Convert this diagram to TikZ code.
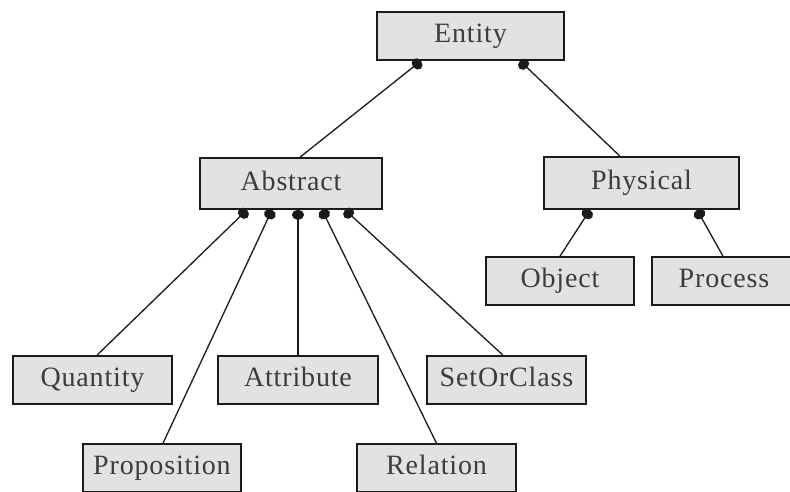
\documentclass[tikz,border=0pt]{standalone}
\usepackage{fontspec}
\setmainfont{Liberation Serif}[LetterSpace=3]
\usetikzlibrary{arrows.meta}
\definecolor{boxfill}{HTML}{E2E2E2}
\definecolor{ink}{HTML}{1A1A1A}
\tikzset{
  cls/.style={draw=ink, line width=1.6pt, fill=boxfill, inner sep=0pt,
    font=\fontsize{28}{30}\selectfont, text=ink!85, anchor=center,
    text height=19pt, text depth=6pt},
  edge/.style={draw=ink, line width=1.3pt, -{Circle[length=10pt,width=12pt]}},
}
\begin{document}
\begin{tikzpicture}[x=1pt,y=-1pt]
\useasboundingbox (0,0) rectangle (790,491);
\clip (0,0) rectangle (790,491);
\fill[white] (0,0) rectangle (790,491);
\node[cls, minimum width=187pt, minimum height=48pt] (entity) at (470.5,36) {Entity};
\node[cls, minimum width=182pt, minimum height=51pt] (abstract) at (291,183.5) {Abstract};
\node[cls, minimum width=195pt, minimum height=52pt] (physical) at (641.5,183) {Physical};
\node[cls, minimum width=148pt, minimum height=48pt] (object) at (560,281) {Object};
\node[cls, minimum width=144pt, minimum height=48pt] (process) at (724,281) {Process};
\node[cls, minimum width=159pt, minimum height=48pt] (quantity) at (92.5,380) {Quantity};
\node[cls, minimum width=160pt, minimum height=48pt] (attribute) at (298,380) {Attribute};
\node[cls, minimum width=159pt, minimum height=48pt] (setorclass) at (506.5,380) {SetOrClass};
\node[cls, minimum width=158pt, minimum height=48pt] (proposition) at (162,468) {Proposition};
\node[cls, minimum width=159pt, minimum height=48pt] (relation) at (436.5,468) {Relation};

\draw[edge] ([xshift=9pt]abstract.north) -- ([xshift=-49.5pt]entity.south);
\draw[edge] ([xshift=-21.5pt]physical.north) -- ([xshift=49.5pt]entity.south);
\draw[edge] ([xshift=4.5pt]quantity.north) -- ([xshift=-44pt]abstract.south);
\draw[edge] ([xshift=1pt]proposition.north) -- ([xshift=-19pt]abstract.south);
\draw[edge] (attribute.north) -- ([xshift=7pt]abstract.south);
\draw[edge] (relation.north) -- ([xshift=31pt]abstract.south);
\draw[edge] ([xshift=-3.5pt]setorclass.north) -- ([xshift=54pt]abstract.south);
\draw[edge] (object.north) -- ([xshift=-51.5pt]physical.south);
\draw[edge] ([xshift=-1pt]process.north) -- ([xshift=55.5pt]physical.south);
\end{tikzpicture}
\end{document}
